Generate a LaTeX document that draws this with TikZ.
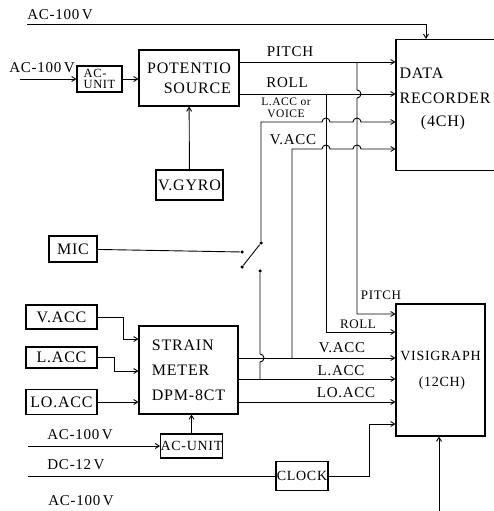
\documentclass[tikz,border=0pt]{standalone}
\usepackage{fontspec}
\setmainfont{Liberation Serif}[LetterSpace=5]
\usetikzlibrary{arrows.meta,positioning}

\begin{document}
\begin{tikzpicture}[x=1pt,y=-1pt,line width=0.9pt,>={Straight Barb[length=4pt,width=5pt]},
    box/.style={draw,line width=1.1pt,inner sep=0pt,align=center,font=\fontsize{16}{20}\selectfont},
    lab/.style={inner sep=0pt,font=\fontsize{15}{18}\selectfont},
    slab/.style={inner sep=0pt,font=\fontsize{13}{15}\selectfont},
    tiny/.style={inner sep=0pt,align=center,font=\fontsize{11.5}{11.5}\selectfont},
    dot/.style={circle,fill,inner sep=0pt,minimum size=3.5pt}]
    \useasboundingbox (0,0) rectangle (493,511);
    \node [box,minimum width=45pt,minimum height=26pt,align=left,font=\fontsize{12.5}{11}\selectfont] (acu) at (99.5,79) {AC-\\UNIT};
    \node [box,minimum width=100pt,minimum height=56pt,align=right] (pot) at (189,78) {POTENTIO\\SOURCE};
    \node [box,minimum width=67pt,minimum height=30pt] (gyro) at (189.5,185) {V.GYRO};
    \node [draw,line width=1.1pt,minimum width=102pt,minimum height=131pt] (rec) at (447,105) {};
    \node [box,draw=none,anchor=west,align=left,font=\fontsize{16}{25}\selectfont] (rectxt) at (399,85.5) {DATA\\RECORDER};
    \node [box,draw=none] (rech) at (443,123) {(4CH)};
    \node [box,minimum width=48pt,minimum height=26pt] (mic) at (73,249) {MIC};
    \node [box,minimum width=71pt,minimum height=24pt] (vacc) at (61.5,317) {V.ACC};
    \node [box,minimum width=71pt,minimum height=21pt] (lacc) at (61.5,357.5) {L.ACC};
    \node [box,minimum width=71pt,minimum height=25pt] (loacc) at (61.5,402) {LO.ACC};
    \node [box,minimum width=99pt,minimum height=88pt,align=left,font=\fontsize{16}{25}\selectfont] (strain) at (188.5,370) {STRAIN\\METER\\DPM-8CT};
    \node [box,minimum width=59pt,minimum height=24pt,font=\fontsize{14}{16}\selectfont] (acu2) at (191.5,446) {AC-UNIT};
    \node [box,minimum width=52pt,minimum height=29pt,font=\fontsize{14}{16}\selectfont] (clock) at (302,476) {CLOCK};
    \node [box,minimum width=89pt,minimum height=132pt,font=\fontsize{14}{26}\selectfont] (vis) at (440.5,370) {VISIGRAPH\\\hspace*{3pt}(12CH)};
    \coordinate (ac0) at (27,24);
    \coordinate (ac1) at (20,79);
    \coordinate (ac2) at (28,446);
    \coordinate (dc) at (28,476);
    \coordinate (ac3) at (439,511);
    \node [dot] (swm) at (242,252) {};
    \node [dot] (swa) at (261,243) {};
    \node [dot] (swb) at (260,271) {};
    \node [dot] (swt) at (242,267) {};
    \node [lab] (l0) at (60,15) {AC-100\,V};
    \node [lab] (l1) at (42,68) {AC-100\,V};
    \node [lab] (l2) at (80,435) {AC-100\,V};
    \node [lab] (l3) at (76,465) {DC-12\,V};
    \node [lab] (l4) at (81,501) {AC-100\,V};
    \node [lab] (lp) at (290,52) {PITCH};
    \node [lab] (lr) at (287,83) {ROLL};
    \node [tiny] (lv) at (286,108) {L.ACC or\\VOICE};
    \node [lab] (lva) at (293,140) {V.ACC};
    \node [slab] (vp) at (381,295) {PITCH};
    \node [slab] (vr) at (358,324) {ROLL};
    \node [lab] (vv) at (342,348) {V.ACC};
    \node [lab] (vl) at (341,371) {L.ACC};
    \node [lab] (vlo) at (346,393) {LO.ACC};
    \draw [->] (ac0) -| ([xshift=-21pt]rec.north);
    \draw [->] (ac1) -- (acu);
    \draw [->] (acu) -- (pot.west |- acu);
    \draw [->] (gyro) -- (pot);
    \draw [->] ([yshift=16pt]pot.east) -- ([yshift=16pt]pot.east -| rec.west);
    \draw [->] ([yshift=-16pt]pot.east) -- ([yshift=-16pt]pot.east -| rec.west);
    \draw [->] (357,62) -- (357,90) arc [start angle=90,end angle=-90,radius=4pt] -- (357,314) -- (vis.west |- 0,314);
    \draw [->] (326,94) -- (326,332) -- (vis.west |- 0,332);
    \draw [->] (swa) -- (261,122) -- (322,122) arc [start angle=180,end angle=0,radius=4pt] -- (353,122) arc [start angle=180,end angle=0,radius=4pt] -- (rec.west |- 0,122);
    \draw [->] (292,358) -- (292,149) -- (322,149) arc [start angle=180,end angle=0,radius=4pt] -- (353,149) arc [start angle=180,end angle=0,radius=4pt] -- (rec.west |- 0,149);
    \draw (mic) -- (swm);
    \draw (swa) -- (swt);
    \draw (swb) -- (260,354) arc [start angle=90,end angle=-90,radius=4pt] -- (260,379);
    \draw [->] ([yshift=12pt]strain.east) -- ([yshift=12pt]strain.east -| vis.west);
    \draw [->] ([yshift=-9pt]strain.east) -- ([yshift=-9pt]strain.east -| vis.west);
    \draw [->] ([yshift=-32pt]strain.east) -- ([yshift=-32pt]strain.east -| vis.west);
    \draw [->] (vacc) -| (123,339) -- (strain.west |- 0,339);
    \draw [->] (lacc) -| (114,371) -- (strain.west |- 0,371);
    \draw [->] (loacc) -- (strain.west |- loacc);
    \draw [->] (acu2.north) -- (acu2.north |- strain.south);
    \draw [->] (ac2) -- (acu2);
    \draw (dc) -- (clock);
    \draw [->] (clock) -| (369,424) -- (vis.west |- 0,424);
    \draw [->] (ac3) -- (vis.south -| ac3);
\end{tikzpicture}
\end{document}
